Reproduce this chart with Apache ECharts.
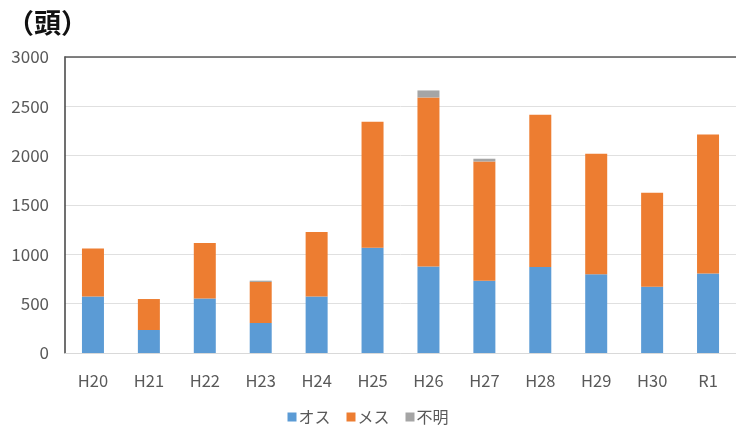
<!DOCTYPE html>
<html>
<head>
<meta charset="utf-8">
<script src="https://cdn.jsdelivr.net/npm/echarts@6/dist/echarts.min.js"></script>
<style>
  html, body { margin: 0; padding: 0; background: #fff; }
  #chart { width: 736px; height: 430px; }
</style>
</head>
<body>
<div id="chart"></div>
<script>
// 年度
const categories = ['H20', 'H21', 'H22', 'H23', 'H24', 'H25', 'H26', 'H27', 'H28', 'H29', 'H30', 'R1'];
// オス（頭）
const male = [573, 233, 553, 304, 573, 1067, 877, 733, 871, 797, 672, 807];
// メス（頭）
const female = [487, 314, 562, 416, 653, 1276, 1713, 1208, 1543, 1222, 952, 1408];
// 不明（頭）
const unknown = [0, 0, 0, 13, 0, 0, 71, 28, 0, 0, 0, 0];
// 縦軸の目盛
const yTicks = [0, 500, 1000, 1500, 2000, 2500, 3000];

const FONT = '"Noto Sans CJK JP", "Noto Sans", sans-serif';
const chart = echarts.init(document.getElementById('chart'));

const seriesDefs = [
  { name: 'オス', data: male, color: '#5B9BD5' },
  { name: 'メス', data: female, color: '#ED7D31' },
  { name: '不明', data: unknown, color: '#A5A5A5' }
];

chart.setOption({
  animation: false,
  title: {
    text: '（頭）',
    left: 2,
    top: 4,
    textStyle: { fontFamily: FONT, fontSize: 27, fontWeight: 'bold', color: '#111' }
  },
  legend: {
    data: seriesDefs.map(s => s.name),
    bottom: 0,
    left: 'center',
    itemWidth: 9,
    itemHeight: 9,
    itemGap: 16,
    icon: 'rect',
    textStyle: { fontFamily: FONT, fontSize: 16, color: '#595959', padding: [0, 0, 0, -3] }
  },
  grid: { left: 65, top: 57, width: 674, height: 296, containLabel: false },
  xAxis: [
    {
      type: 'category',
      data: categories,
      axisLine: { show: true, lineStyle: { color: '#d9d9d9', width: 1 } },
      axisTick: { show: false },
      axisLabel: { fontFamily: FONT, fontSize: 16.5, color: '#595959', margin: 19 }
    },
    {
      type: 'category',
      position: 'top',
      data: categories,
      axisLine: { show: true, lineStyle: { color: '#595959', width: 1.5 } },
      axisTick: { show: false },
      axisLabel: { show: false }
    }
  ],
  yAxis: {
    type: 'value',
    min: yTicks[0],
    max: yTicks[yTicks.length - 1],
    interval: yTicks[1] - yTicks[0],
    axisLine: { show: true, lineStyle: { color: '#404040', width: 1.5 } },
    axisTick: { show: false },
    axisLabel: {
      fontFamily: FONT, fontSize: 17, color: '#595959', margin: 16,
      formatter: v => String(v)
    },
    splitLine: { show: true, lineStyle: { color: '#e0e0e0', width: 1 } }
  },
  series: seriesDefs.map(s => ({
    name: s.name,
    type: 'bar',
    stack: 'total',
    barWidth: 22,
    data: s.data,
    itemStyle: { color: s.color }
  }))
});
</script>
</body>
</html>
